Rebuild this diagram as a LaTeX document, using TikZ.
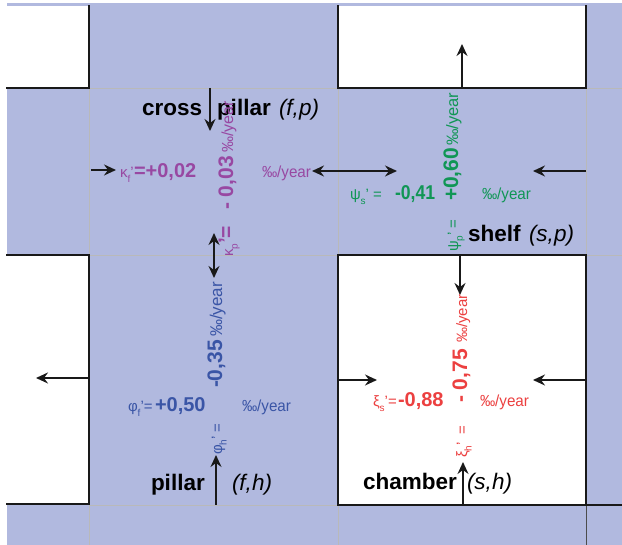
\documentclass[tikz,border=0pt]{standalone}
\usepackage{fontspec}
\usepackage{graphicx}
\setmainfont{Liberation Sans}
\usetikzlibrary{arrows.meta}
\definecolor{bgblue}{RGB}{177,185,223}
\definecolor{kpur}{RGB}{152,72,162}
\definecolor{pgreen}{RGB}{16,150,85}
\definecolor{fblue}{RGB}{58,85,166}
\definecolor{xred}{RGB}{236,64,64}
\newcommand\lblb[1]{{\fontsize{22.5}{26}\selectfont\bfseries #1}}
\newcommand\lbli[1]{{\fontsize{22.5}{26}\selectfont\itshape #1}}
\newcommand\numh[2][1]{{\fontsize{20}{24}\selectfont\bfseries\scalebox{#1}[1]{#2}}}
\newcommand\numv[1]{{\fontsize{21}{24}\selectfont\bfseries #1}}
\newcommand\grk[2]{{\fontsize{15}{18}\selectfont #1\raisebox{-0.3em}{\fontsize{10}{12}\selectfont #2}}}
\newcommand\rg[1]{{\fontsize{15}{18}\selectfont #1}}
\newcommand\pmy{{\fontsize{16}{19}\selectfont\scalebox{0.95}[1]{‰/year}}}
\newcommand\pmyv[1]{{\fontsize{#1}{19}\selectfont ‰/year}}
\begin{document}
\begin{tikzpicture}[x=1pt,y=-1pt,
  blk/.style={line width=1.8pt, black!90, line cap=rect},
  grd/.style={line width=0.6pt, gray!55},
  tip/.tip={Stealth[length=12pt,width=11pt,inset=4pt]},
  arr/.style={line width=1.6pt, black!90, -tip},
  darr/.style={line width=1.6pt, black!90, tip-tip},
  txt/.style={anchor=base west, inner sep=0pt, outer sep=0pt},
  vtxt/.style={txt, rotate=90},
]
\useasboundingbox (0,0) rectangle (622,545);
\fill[white] (0,0) rectangle (622,545);
\fill[bgblue] (7,3) rectangle (622,545);
\fill[white] (0,6) rectangle (89,88);
\fill[white] (338,6) rectangle (586,88);
\fill[white] (0,255) rectangle (89,504);
\fill[white] (338,255) rectangle (586,505);
% grey grid
\draw[grd] (89,88) -- (338,88) (586,88) -- (622,88);
\draw[grd] (89,88) -- (89,255) (338,88) -- (338,255) (586,88) -- (586,255);
\draw[grd] (89,255) -- (338,255) (586,255) -- (622,255);
\draw[grd] (89,505) -- (338,505);
\draw[grd] (89,505) -- (89,545) (338,505) -- (338,545);
\draw[line width=0.8pt, black!70] (586,505) -- (586,545);
% black borders
\draw[blk] (7,88) -- (89,88) -- (89,6);
\draw[blk] (338,6) -- (338,88) -- (586,88) -- (586,6);
\draw[blk] (7,255) -- (89,255) -- (89,504) -- (7,504);
\draw[blk] (338,255) rectangle (586,505);
\draw[blk] (586,505) -- (622,505);
% arrow end points
\coordinate (a1s) at (210,88);  \coordinate (a1e) at (210,131);
\coordinate (a2s) at (214,233); \coordinate (a2e) at (214,278);
\coordinate (a3s) at (216,505); \coordinate (a3e) at (216,455);
\coordinate (a4s) at (91,170);  \coordinate (a4e) at (116,170);
\coordinate (a5s) at (312,171); \coordinate (a5e) at (397,171);
\coordinate (a6s) at (586,171); \coordinate (a6e) at (533,171);
\coordinate (a7s) at (462,88);  \coordinate (a7e) at (462,44);
\coordinate (a8s) at (460,255); \coordinate (a8e) at (460,295);
\coordinate (a9s) at (463,505); \coordinate (a9e) at (463,462);
\coordinate (a10s) at (338,380); \coordinate (a10e) at (377,380);
\coordinate (a11s) at (586,380); \coordinate (a11e) at (533,380);
\coordinate (a12s) at (89,378);  \coordinate (a12e) at (36,378);
\draw[arr] (a1s) -- (a1e);
\draw[darr] (a2s) -- (a2e);
\draw[arr] (a3s) -- (a3e);
\draw[arr] (a4s) -- (a4e);
\draw[darr] (a5s) -- (a5e);
\draw[arr] (a6s) -- (a6e);
\draw[arr] (a7s) -- (a7e);
\draw[arr] (a8s) -- (a8e);
\draw[arr] (a9s) -- (a9e);
\draw[arr] (a10s) -- (a10e);
\draw[arr] (a11s) -- (a11e);
\draw[arr] (a12s) -- (a12e);
% cross pillar
\node[txt] (cp1) at (142,116) {\lblb{cross}};
\node[txt] (cp2) at (217,116) {\lblb{pillar}};
\node[txt] (cp3) at (279,116) {\lbli{(f,p)}};
\node[txt, kpur] (kf) at (120,178) {\grk{κ}{f}\rg{'}};
\node[txt, kpur] (kfn) at (134,178) {\numh{=+0,02}};
\node[txt, kpur] (kfu) at (262,178) {\pmy};
\node[vtxt, kpur] (kp) at (233,257) {\grk{κ}{p}\numv{'=}};
\node[vtxt, kpur] (kpn) at (233,210) {\numv{- 0,03}};
\node[vtxt, kpur] (kpu) at (233,153) {\pmyv{16}};
% shelf
\node[txt, pgreen] (ps) at (350,200) {\grk{ψ}{s}\rg{' =}};
\node[txt, pgreen] (psn) at (395,200) {\numh[0.88]{-0,41}};
\node[txt, pgreen] (psu) at (482,200) {\pmy};
\node[vtxt, pgreen] (pp) at (458,252) {\grk{ψ}{p}\rg{' =}};
\node[vtxt, pgreen] (ppn) at (458,201) {\numv{+0,60}};
\node[vtxt, pgreen] (ppu) at (458,146) {\pmyv{16.5}};
\node[txt] (sh) at (468,242) {\lblb{shelf}};
\node[txt] (shc) at (529,242) {\lbli{(s,p)}};
% pillar
\node[txt, fblue] (ff) at (128,412) {\grk{φ}{f}\rg{'=}};
\node[txt, fblue] (ffn) at (155,412) {\numh{+0,50}};
\node[txt, fblue] (ffu) at (242,412) {\pmy};
\node[vtxt, fblue] (fh) at (222,455) {\grk{φ}{h}\rg{' =}};
\node[vtxt, fblue] (fhn) at (222,388) {\numv{-0,35}};
\node[vtxt, fblue] (fhu) at (222,337) {\pmyv{17}};
\node[txt] (pl) at (151,491) {\lblb{pillar}};
\node[txt] (plc) at (232,491) {\lbli{(f,h)}};
% chamber
\node[txt, xred] (xs) at (373,407) {\grk{ξ}{s}\rg{'=}};
\node[txt, xred] (xsn) at (398,407) {\numh{-0,88}};
\node[txt, xred] (xsu) at (480,407) {\pmy};
\node[vtxt, xred] (xh) at (467,458) {\grk{ξ}{h}\rg{'\ \ =}};
\node[vtxt, xred] (xhn) at (467,403) {\numv{- 0,75}};
\node[vtxt, xred] (xhu) at (467,343) {\pmyv{15}};
\node[txt] (ch) at (363,490) {\lblb{chamber}};
\node[txt] (chc) at (467,490) {\lbli{(s,h)}};
\end{tikzpicture}
\end{document}
